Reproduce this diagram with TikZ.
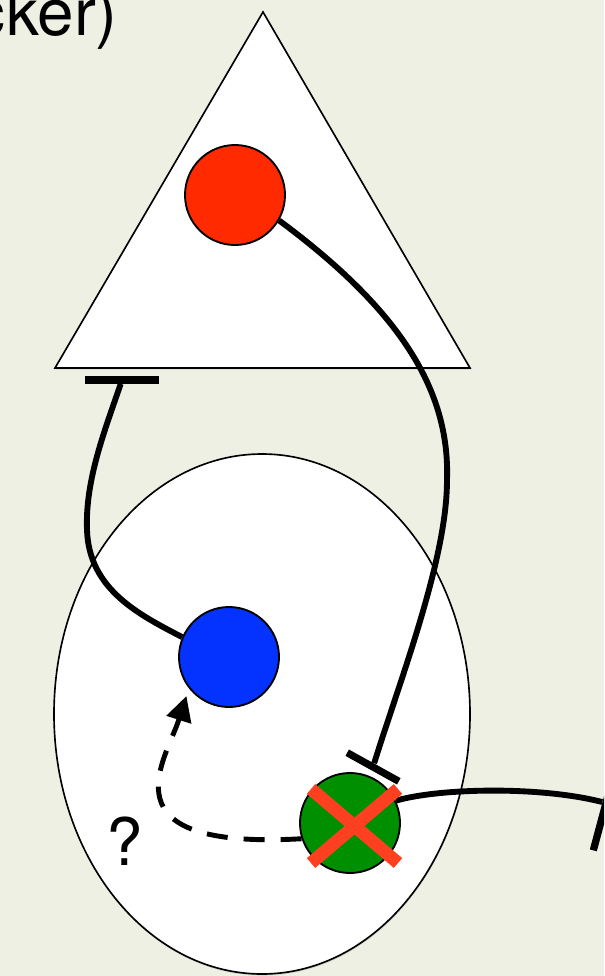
\documentclass[tikz,border=0pt]{standalone}
\usepackage{fontspec}
\setmainfont{TeX Gyre Heros}
\usetikzlibrary{arrows.meta,calc,shadows}
\definecolor{SlideBg}{HTML}{EDF0E3}
\definecolor{CellRed}{HTML}{FF2A00}
\definecolor{CellBlue}{HTML}{0433FF}
\definecolor{CellGreen}{HTML}{008F00}
\definecolor{KnockRed}{HTML}{FF4020}

\begin{document}
\begin{tikzpicture}[
  x=0.03cm,y=-0.03cm,
  compartment/.style={
    draw=black,
    line width=1.4pt,
    fill=white,
    drop shadow={shadow xshift=0.4pt,shadow yshift=-1.4pt,opacity=0.22}
  },
  cell/.style={
    circle,
    draw=black,
    line width=1.6pt,
    minimum size=3cm,
    inner sep=0pt
  },
  tbar/.style={
    rectangle,
    fill=black,
    minimum height=6.2pt,
    inner sep=0pt
  },
  link/.style={
    line width=5pt,
    draw=black
  },
  maybe/.style={
    -{Triangle[length=7.5mm,width=7.5mm]},
    line width=4.2pt,
    dash pattern=on 6.3mm off 4.8mm
  },
  knockout/.style={
    line width=11pt,
    draw=KnockRed
  },
  bigtext/.style={
    font=\fontsize{56}{62}\selectfont,
    inner sep=0pt
  }
]

% -------------------------------------------------
% Slide background
% -------------------------------------------------
\useasboundingbox (0,0) rectangle (604,976);
\fill[SlideBg] (0,0) rectangle (604,976);
\clip (0,0) rectangle (604,976);

\node[bigtext, anchor=base east] (title) at (118,35) {cker)};

% -------------------------------------------------
% Compartments
% -------------------------------------------------
\draw[compartment, line join=miter] (263,12) -- (470,368) -- (55,368) -- cycle;
\draw[compartment] (262,714) ellipse [x radius=208, y radius=260];

% -------------------------------------------------
% Cells and bars
% -------------------------------------------------
\node[cell, fill=CellRed]   (red)   at (235,195) {};
\node[cell, fill=CellBlue]  (blue)  at (229,657) {};
\node[cell, fill=CellGreen] (green) at (350,823) {};

\node[tbar, minimum width=2.22cm] (lbar) at (122,380) {};
\node[tbar, minimum width=1.77cm, rotate=-29] (gbar) at (373,767) {};
\node[tbar, minimum width=2.94cm, rotate=75] (rbar) at (606,803) {};

% -------------------------------------------------
% Connections
% -------------------------------------------------
\draw[link] (red.-30) .. controls (400,310) and (450,390) .. (447,480)
  .. controls (447,560) and (400,680) .. (gbar);
\draw[link] (lbar) .. controls (105,430) and (85,480) .. (87,530)
  .. controls (89,590) and (140,615) .. (blue.157);
\draw[link] (green.26) .. controls (440,788) and (540,786) .. (rbar);

\draw[maybe, shorten >=0.24cm] (green.198) .. controls (100,850) and (166,760) .. (blue.218);

% knocked out cell
\draw[knockout] ($(green)+(-39,-34)$) -- ($(green)+(48,40)$);
\draw[knockout] ($(green)+(-39,40)$) -- ($(green)+(48,-34)$);

\node[bigtext, anchor=base] (query) at (125,865) {?};

\end{tikzpicture}
\end{document}
